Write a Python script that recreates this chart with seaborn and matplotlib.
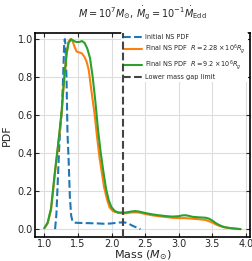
import matplotlib
matplotlib.use("Agg")
import matplotlib.pyplot as plt
import seaborn as sns
import pandas as pd
import numpy as np

sns.set_style("whitegrid", {"axes.edgecolor": "black", "grid.color": "#dddddd",
                            "xtick.direction": "in", "ytick.direction": "in",
                            "xtick.top": True, "ytick.right": True,
                            "xtick.bottom": True, "ytick.left": True})
plt.rcParams['font.family'] = ['DejaVu Sans']

# initial NS mass PDF
init_mass = [1.16, 1.18, 1.20, 1.22, 1.24, 1.26, 1.28, 1.295, 1.305, 1.315, 1.33, 1.345, 1.36, 1.38,
             1.40, 1.42, 1.45, 1.5, 1.6, 1.7, 1.8, 1.9, 2.0, 2.1, 2.2, 2.25, 2.3, 2.35, 2.4, 2.43]
init_pdf = [0.0, 0.08, 0.25, 0.42, 0.55, 0.62, 0.8, 0.97, 1.0, 0.97, 0.8, 0.5, 0.38, 0.17,
            0.07, 0.04, 0.034, 0.033, 0.032, 0.031, 0.03, 0.028, 0.03, 0.035, 0.035, 0.03, 0.02, 0.012, 0.005, 0.0]

# final NS PDF, R = 2.28e6 Rg
fin1_mass = [1.0, 1.05, 1.1, 1.13, 1.16, 1.2, 1.24, 1.26, 1.28, 1.30, 1.33, 1.36, 1.39, 1.42, 1.45, 1.48,
             1.52, 1.56, 1.60, 1.63, 1.66, 1.70, 1.75, 1.78, 1.82, 1.85, 1.89, 1.93, 1.97, 2.02, 2.1, 2.2,
             2.3, 2.4, 2.5, 2.6, 2.7, 2.8, 2.9, 3.0, 3.1, 3.2, 3.3, 3.4, 3.5, 3.55, 3.6, 3.65, 3.7, 3.8, 3.92]
fin1_pdf = [0.005, 0.03, 0.1, 0.2, 0.3, 0.42, 0.55, 0.62, 0.72, 0.8, 0.92, 0.985, 1.0, 0.99, 0.96, 0.935,
            0.93, 0.925, 0.905, 0.88, 0.84, 0.73, 0.6, 0.5, 0.38, 0.31, 0.22, 0.16, 0.115, 0.095, 0.085, 0.083,
            0.088, 0.088, 0.08, 0.073, 0.068, 0.064, 0.06, 0.058, 0.058, 0.055, 0.052, 0.048, 0.035, 0.025,
            0.018, 0.012, 0.008, 0.004, 0.0]

# final NS PDF, R = 9.2e6 Rg
fin2_mass = [1.0, 1.05, 1.1, 1.13, 1.16, 1.2, 1.24, 1.26, 1.28, 1.30, 1.33, 1.36, 1.40, 1.44, 1.48, 1.52,
             1.56, 1.60, 1.64, 1.68, 1.72, 1.76, 1.80, 1.84, 1.88, 1.92, 1.96, 2.0, 2.05, 2.1, 2.2, 2.3,
             2.35, 2.4, 2.5, 2.6, 2.7, 2.8, 2.9, 3.0, 3.05, 3.1, 3.15, 3.2, 3.3, 3.4, 3.45, 3.5, 3.55, 3.6,
             3.65, 3.7, 3.8, 3.92]
fin2_pdf = [0.005, 0.035, 0.11, 0.21, 0.31, 0.43, 0.56, 0.63, 0.73, 0.81, 0.92, 0.98, 1.0, 0.99, 0.985, 0.985,
            0.99, 0.98, 0.95, 0.9, 0.8, 0.67, 0.52, 0.4, 0.3, 0.21, 0.15, 0.115, 0.095, 0.088, 0.087, 0.093,
            0.095, 0.093, 0.085, 0.078, 0.073, 0.069, 0.066, 0.068, 0.072, 0.073, 0.07, 0.065, 0.062, 0.06,
            0.055, 0.045, 0.032, 0.022, 0.014, 0.009, 0.004, 0.0]

mass_gap = 2.17

fig = plt.figure(figsize=(2.53, 2.61), dpi=100)
ax = fig.add_axes([0.138, 0.093, 0.85, 0.781])

sns.lineplot(x=init_mass, y=init_pdf, ax=ax, color="#1f77b4", lw=1.5, linestyle="--",
             label="Initial NS PDF")
sns.lineplot(x=fin1_mass, y=fin1_pdf, ax=ax, color="#ff7f0e", lw=1.5,
             label=r"Final NS PDF  $R = 2.28\times10^6 R_g$")
sns.lineplot(x=fin2_mass, y=fin2_pdf, ax=ax, color="#2ca02c", lw=1.5,
             label=r"Final NS PDF  $R = 9.2\times10^6 R_g$")
ax.axvline(mass_gap, color="#444444", lw=1.5, linestyle="--", label="Lower mass gap limit", zorder=6)

ax.set_xlim(0.86, 4.06)
ax.set_ylim(-0.04, 1.033)
ax.set_xticks(np.arange(1.0, 4.01, 0.5))
ax.set_yticks(np.arange(0.0, 1.01, 0.2))
ax.tick_params(labelsize=7, length=3, width=0.8, pad=1.5)
for s in ax.spines.values():
    s.set_linewidth(1.2)
    s.set_color("black")
ax.grid(True, color="#dddddd", lw=0.8)

ax.set_xlabel(r"Mass ($M_{\odot}$)", fontsize=8, labelpad=0)
ax.set_ylabel("PDF", fontsize=8, labelpad=4)
ax.set_title(r"$M = 10^7 M_{\odot}$, $\dot{M}_{\rm g} = 10^{-1} \dot{M}_{\rm Edd}$", fontsize=7, pad=11)

leg = ax.legend(loc="upper right", bbox_to_anchor=(1.0, 1.012), fontsize=4.7, handlelength=2.9,
                labelspacing=0.3, handletextpad=0.6, borderpad=0.3,
                frameon=True, framealpha=1, borderaxespad=0.3)
leg.get_frame().set_edgecolor("white")
leg.get_frame().set_linewidth(0)
leg.set_zorder(5)

fig.savefig("out.png", dpi=100)
